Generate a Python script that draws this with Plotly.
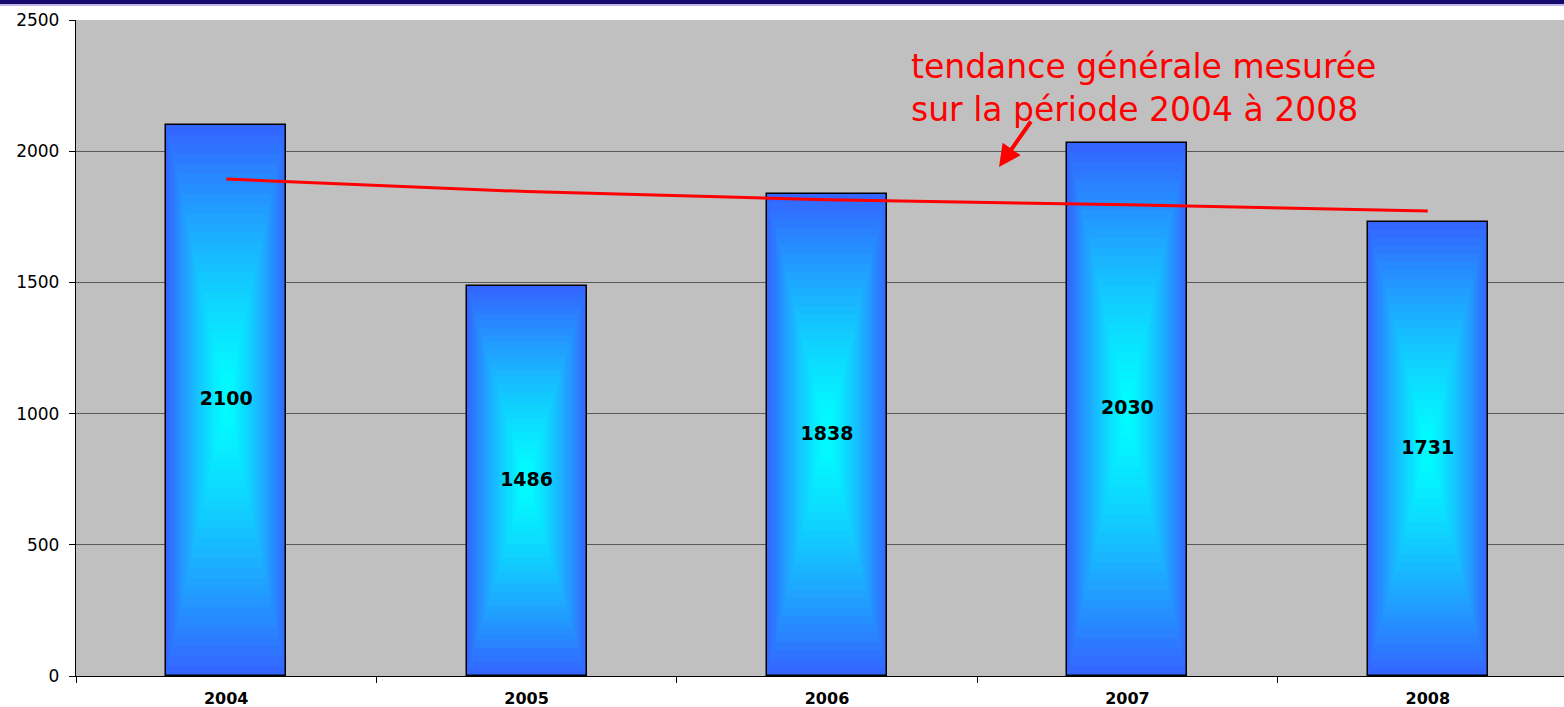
import plotly.graph_objects as go

# ---- data ----
years = ["2004", "2005", "2006", "2007", "2008"]
values = [2100, 1486, 1838, 2030, 1731]
trend = [1894, 1846, 1815, 1796, 1772]
y_ticks = [0, 500, 1000, 1500, 2000, 2500]
annotation_text = "tendance générale mesurée<br>sur la période 2004 à 2008"

# ---- style ----
FONT = "DejaVu Sans"
BAR_W = 0.4
N_LAYERS = 28
OUTER = (51, 102, 255)
INNER = (0, 255, 255)

W, H = 1564, 707
ML, MR, MT, MB = 76, 0, 20, 31
plot_w = W - ML - MR
plot_h = H - MT - MB
cat_px = 300.4
x_max = -0.5 + plot_w / cat_px


def px_to_paper_x(px):
    return (px - ML) / plot_w


def px_to_paper_y(py):
    return (H - MB - py) / plot_h


fig = go.Figure()

# gradient bars: nested rectangles ("from centre" gradient)
for k in range(N_LAYERS):
    frac = 1 - k / N_LAYERS
    t = frac ** 1.3
    col = tuple(int(round(INNER[i] + (OUTER[i] - INNER[i]) * t)) for i in range(3))
    fig.add_trace(go.Bar(
        x=years,
        y=[v * frac for v in values],
        base=[v * k / (2 * N_LAYERS) for v in values],
        width=[BAR_W * frac] * len(years),
        marker=dict(
            color="rgb(%d,%d,%d)" % col,
            line=dict(color="black", width=1.5 if k == 0 else 0),
        ),
        hoverinfo="skip",
        showlegend=False,
    ))

# trend line
fig.add_trace(go.Scatter(
    x=years, y=trend, mode="lines",
    line=dict(color="#FF0000", width=3),
    hoverinfo="skip", showlegend=False,
))

# value labels
fig.add_trace(go.Scatter(
    x=years, y=[v / 2 for v in values],
    mode="text", text=[str(v) for v in values],
    textposition="middle center",
    textfont=dict(family=FONT, size=19, color="black", weight="bold"),
    hoverinfo="skip", showlegend=False,
))

fig.update_layout(
    width=W, height=H,
    margin=dict(l=ML, r=MR, t=MT, b=MB),
    paper_bgcolor="white",
    plot_bgcolor="#C0C0C0",
    barmode="overlay",
    bargap=0,
    showlegend=False,
    hovermode=False,
    xaxis=dict(
        type="category",
        range=[-0.5, x_max],
        showgrid=False,
        showline=True, linecolor="black", linewidth=1.3,
        ticks="outside", tickson="boundaries", ticklen=6, tickcolor="black",
        tickfont=dict(family=FONT, size=16, color="black", weight="bold"),
        ticklabelstandoff=8,
        zeroline=False,
    ),
    yaxis=dict(
        range=[0, 2500],
        tickvals=y_ticks,
        showgrid=True, gridcolor="#5a5a5a", gridwidth=1,
        showline=True, linecolor="black", linewidth=1.3,
        ticks="outside", ticklen=6, tickcolor="black",
        tickfont=dict(family=FONT, size=17, color="black"),
        ticklabelstandoff=6,
        zeroline=False,
    ),
    shapes=[
        dict(type="rect", xref="paper", yref="paper",
             x0=px_to_paper_x(0), x1=px_to_paper_x(W),
             y0=px_to_paper_y(4), y1=px_to_paper_y(0),
             fillcolor="#140A6E", line=dict(width=0), layer="above"),
        dict(type="rect", xref="paper", yref="paper",
             x0=px_to_paper_x(0), x1=px_to_paper_x(W),
             y0=px_to_paper_y(6), y1=px_to_paper_y(4),
             fillcolor="#C4B6E2", line=dict(width=0), layer="above"),
    ],
    annotations=[
        dict(text=annotation_text, xref="paper", yref="paper",
             x=px_to_paper_x(909), y=px_to_paper_y(88),
             xanchor="left", yanchor="middle", align="left",
             showarrow=False,
             font=dict(family=FONT, size=33, color="#FF0000")),
        dict(text="", xref="paper", yref="paper",
             x=px_to_paper_x(999), y=px_to_paper_y(167),
             ax=33, ay=-47, axref="pixel", ayref="pixel",
             showarrow=True, arrowhead=2, arrowsize=1.1,
             arrowwidth=4, arrowcolor="#FF0000"),
    ],
)

fig.write_html(
    "out.html",
    config={"displayModeBar": False},
    post_script="document.body.style.margin='0';document.body.style.padding='0';document.body.style.overflow='hidden';",
)
